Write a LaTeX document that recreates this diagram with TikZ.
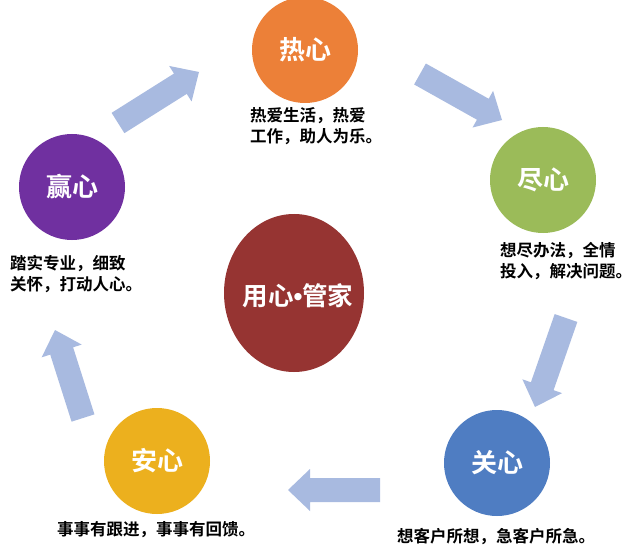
\documentclass[tikz,border=0pt]{standalone}
\usepackage{fontspec}
\setmainfont{Noto Sans CJK SC}[BoldFont={Noto Sans CJK SC Bold}]
\newfontfamily\dotfont{Liberation Sans}[BoldFont={Liberation Sans Bold}]
\usetikzlibrary{calc,shapes.geometric}
\definecolor{cOrange}{RGB}{236,128,56}
\definecolor{cGreen}{RGB}{155,187,89}
\definecolor{cBlue}{RGB}{79,125,194}
\definecolor{cYellow}{RGB}{236,176,30}
\definecolor{cPurple}{RGB}{112,48,160}
\definecolor{cRed}{RGB}{150,52,50}
\definecolor{cArrow}{RGB}{168,186,224}
\tikzset{
  circ/.style={circle, minimum size=106pt, inner sep=0pt, text=white,
    font=\fontsize{26}{30}\selectfont\bfseries},
  desc/.style={align=left, inner sep=0pt, text=black,
    font=\fontsize{16.5}{21}\selectfont\bfseries},
  arrowfill/.style={fill=cArrow}
}
\newcommand\blockarrow[2]{%
  \coordinate (hb) at ($(#2)!22pt!(#1)$);
  \fill[arrowfill]
    ($(#1)!12pt!90:(#2)$) --
    ($(hb)!12pt!-90:(#1)$) --
    ($(hb)!21pt!-90:(#1)$) --
    (#2) --
    ($(hb)!21pt!90:(#1)$) --
    ($(hb)!12pt!90:(#1)$) --
    ($(#1)!12pt!-90:(#2)$) -- cycle;
}
\begin{document}
\begin{tikzpicture}[x=1pt,y=1pt]
\useasboundingbox (0,0) rectangle (640,558);
\fill[white] (0,0) rectangle (640,558);

% circles
\node[circ, fill=cOrange] (rexin) at (305,508) {热心};
\node[circ, fill=cGreen] (jinxin) at (543,378) {尽心};
\node[circ, fill=cBlue] (guanxin) at (497,95) {关心};
\node[circ, fill=cYellow] (anxin) at (157,97) {安心};
\node[circ, fill=cPurple] (yingxin) at (72,371) {赢心};
\node[ellipse, fill=cRed, minimum width=140pt, minimum height=158pt, inner sep=0pt] (center) at (294,265) {};
\node[inner sep=0pt, text=white, font=\fontsize{25.5}{30}\selectfont\bfseries] (title) at ($(center)+(4,-3)$) {用心{\dotfont•}管家};

% descriptions
\node[desc, anchor=north west] (t1) at (250,451) {热爱生活，热爱\\工作，助人为乐。};
\node[desc, anchor=north west] (t2) at (500,316) {想尽办法，全情\\投入，解决问题。};
\node[desc, anchor=north west] (t5) at (10,303) {踏实专业，细致\\关怀，打动人心。};
\node[desc, anchor=center] (t4) at (156,28) {事事有跟进，事事有回馈。};
\node[desc, anchor=center] (t3) at (496,21) {想客户所想，急客户所急。};

% arrows
\coordinate (a1s) at (118,435); \coordinate (a1e) at (199,486);
\coordinate (a2s) at (420,484); \coordinate (a2e) at (502,438);
\coordinate (a3s) at (566,240); \coordinate (a3e) at (535,151);
\coordinate (a4s) at (380,68);  \coordinate (a4e) at (288,68);
\coordinate (a5s) at (83,140);  \coordinate (a5e) at (55,228);
\blockarrow{a1s}{a1e}
\blockarrow{a2s}{a2e}
\blockarrow{a3s}{a3e}
\blockarrow{a4s}{a4e}
\blockarrow{a5s}{a5e}
\end{tikzpicture}
\end{document}
